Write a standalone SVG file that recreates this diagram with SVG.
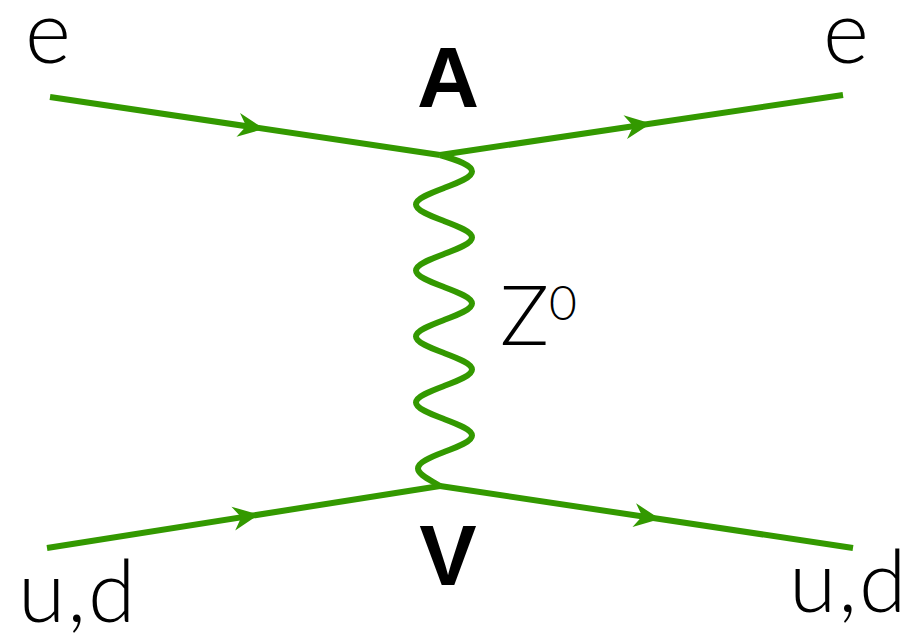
<svg xmlns="http://www.w3.org/2000/svg" width="912" height="637" viewBox="0 0 912 637">
<style>
.ln{fill:none;stroke:#339900;stroke-width:6;stroke-linejoin:round}
.ar{fill:#339900}
.t{font-family:Lato,"Open Sans","Liberation Sans",sans-serif;font-weight:300;fill:#000}
.b{font-family:"Liberation Sans",Arial,sans-serif;font-weight:bold;fill:#000}
</style>
<defs>
<path id="arr" d="M0,0 L-26,-12 L-18,0 L-26,12 Z"/>
</defs>
<rect width="912" height="637" fill="#fff"/>
<g id="connectors">
<line class="ln" x1="50" y1="97" x2="440" y2="155"/>
<line class="ln" x1="440" y1="155" x2="843" y2="95"/>
<line class="ln" x1="47" y1="548" x2="440" y2="486"/>
<line class="ln" x1="440" y1="486" x2="853" y2="548"/>
<path class="ln" d="M440,155 C458.3,160.4 472,165.5 472,171.5 C472,177.5 458.3,182.6 444,188 C429.7,193.4 416,198.5 416,204.5 C416,210.5 429.7,215.6 444,221 C458.3,226.4 472,231.5 472,237.5 C472,243.5 458.3,248.6 444,254 C429.7,259.4 416,264.5 416,270.5 C416,276.5 429.7,281.6 444,287 C458.3,292.4 472,297.5 472,303.5 C472,309.5 458.3,314.6 444,320 C429.7,325.4 416,330.5 416,336.5 C416,342.5 429.7,347.6 444,353 C458.3,358.4 472,363.5 472,369.5 C472,375.5 458.3,380.6 444,386 C429.7,391.4 416,396.5 416,402.5 C416,408.5 429.7,413.6 444,419 C458.3,424.4 472,429.5 472,435.5 C472,441.5 458.3,446.6 444,452 C429.7,457.4 418,462.5 418,468.5 C418,474.5 429.7,479.6 440,486"/>
<use href="#arr" class="ar" transform="translate(264,128.8) rotate(8.47)"/>
<use href="#arr" class="ar" transform="translate(651,123.4) rotate(-8.47)"/>
<use href="#arr" class="ar" transform="translate(259,514.5) rotate(-8.97)"/>
<use href="#arr" class="ar" transform="translate(660,519) rotate(8.54)"/>
</g>
<g id="e-in"><text class="t" x="25" y="63" font-size="88">e</text></g>
<g id="e-out"><text class="t" x="823" y="63" font-size="88">e</text></g>
<g id="vertex-A"><text class="b" x="448" y="107" font-size="86" text-anchor="middle">A</text></g>
<g id="vertex-V"><text class="b" x="448" y="585" font-size="86" text-anchor="middle">V</text></g>
<g id="Z0"><text class="t" x="500" y="345" font-size="82">Z<tspan font-size="48" dy="-25">0</tspan></text></g>
<g id="ud-in"><text class="t" x="18" y="622" font-size="86" letter-spacing="2">u,d</text></g>
<g id="ud-out"><text class="t" x="789" y="612" font-size="86" letter-spacing="2">u,d</text></g>
</svg>
